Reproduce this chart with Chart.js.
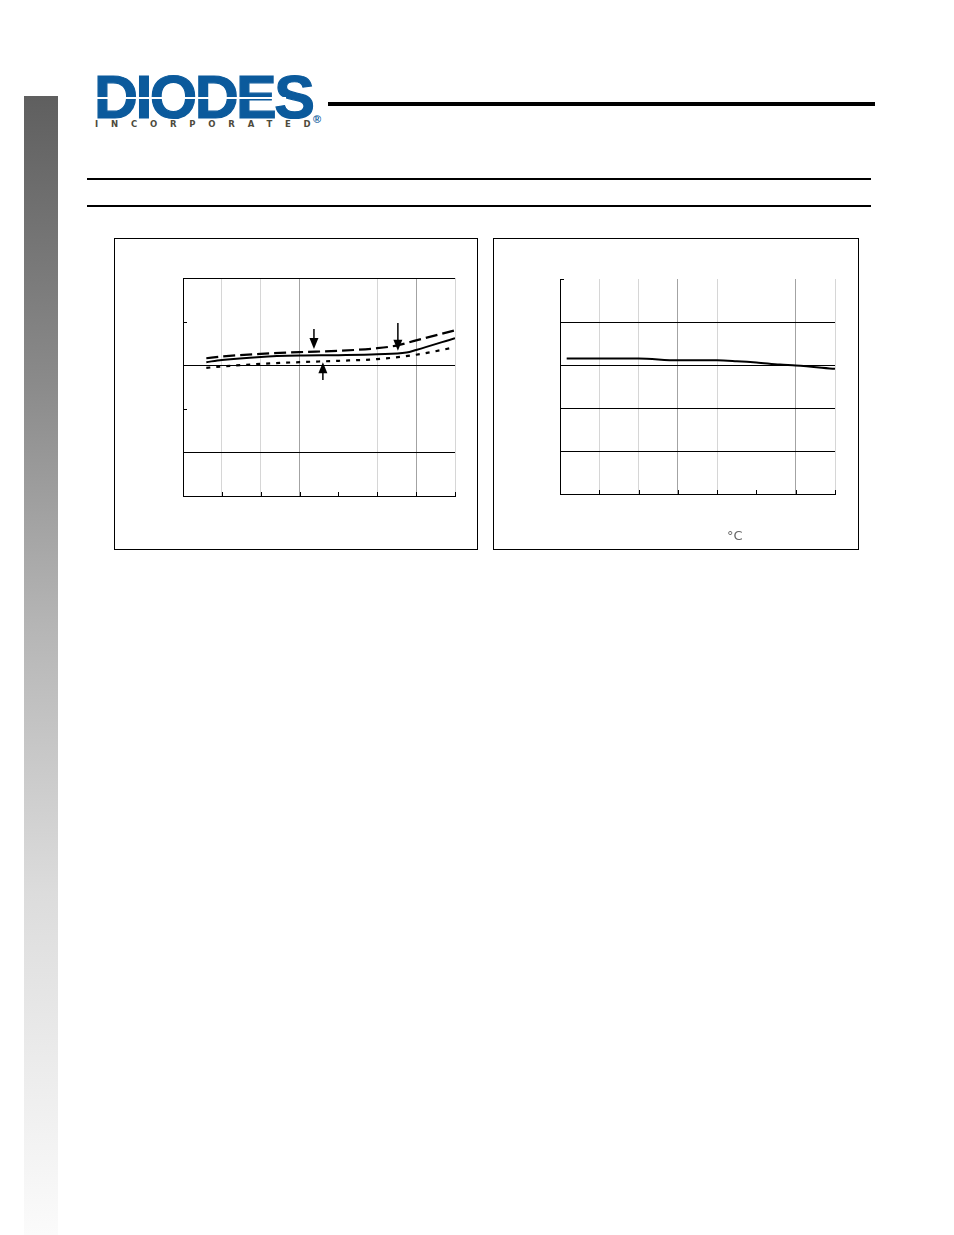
<!DOCTYPE html>
<html>
<head>
<meta charset="utf-8">
<script src="https://cdn.jsdelivr.net/npm/chart.js@4.4.0/dist/chart.umd.min.js"></script>
<style>
  html, body { margin:0; padding:0; background:#fff; }
  body { width:954px; height:1235px; position:relative; overflow:hidden; font-family:"Liberation Sans", Arial, sans-serif; }
  .sidebar { position:absolute; left:24px; top:96px; width:34px; height:1139px;
             background:linear-gradient(to bottom, #5f5f5f 0%, #8a8a8a 25%, #b6b6b6 47%, #dcdcdc 70%, #fbfbfb 100%); }
  .logo { position:absolute; left:94px; top:75px; font-weight:bold; font-size:61px; color:#0b5a9c;
          letter-spacing:-2.6px; line-height:44px; -webkit-text-stroke:1.2px #0b5a9c; }
  .logo-cut { position:absolute; left:96px; top:97px; width:190px; height:2px; background:#fff; }
  .inc { position:absolute; left:95px; top:120px; font-size:8.5px; line-height:9px; font-weight:bold; color:#4d4a3c; letter-spacing:12.8px; font-family:"DejaVu Sans", sans-serif; }
  .inc span { letter-spacing:0; }
  .reg { position:absolute; left:313px; top:114px; font-size:11px; line-height:11px; color:#0b5a9c; font-weight:bold; }
  .rule { position:absolute; background:#000; }
  .box { position:absolute; border:1px solid #000; box-sizing:border-box; }
  .box canvas { position:absolute; left:0; top:0; }
  .unit { position:absolute; left:727px; top:528px; font-size:13px; color:#666; font-family:"DejaVu Sans", sans-serif; }
</style>
</head>
<body>
<div class="sidebar"></div>
<div class="logo">DIODES</div>
<div class="logo-cut"></div>
<div class="inc">INCORPORATE<span>D</span></div>
<div class="reg">®</div>
<div class="rule" style="left:328px; top:102px; width:547px; height:4px;"></div>
<div class="rule" style="left:87px; top:178px; width:784px; height:2px;"></div>
<div class="rule" style="left:87px; top:205px; width:784px; height:2px;"></div>

<div class="box" style="left:114px; top:238px; width:364px; height:312px;">
  <canvas id="chartL" width="362" height="310"></canvas>
</div>
<div class="box" style="left:493px; top:238px; width:366px; height:312px;">
  <canvas id="chartR" width="364" height="310"></canvas>
</div>
<div class="unit">°C</div>

<script>
// left chart: three curves
var leftSolidX  = [0.6, 1, 2, 3, 4, 5, 5.75, 6, 7];
var leftSolidY  = [3.07, 3.12, 3.19, 3.22, 3.23, 3.25, 3.29, 3.35, 3.62];
var leftDashX   = [0.6, 1, 2, 3, 4, 5, 5.5, 6, 7];
var leftDashY   = [3.16, 3.20, 3.26, 3.30, 3.33, 3.39, 3.45, 3.57, 3.80];
var leftDotX    = [0.6, 1, 2, 3, 4, 5, 6, 7];
var leftDotY    = [2.94, 2.97, 3.03, 3.07, 3.10, 3.14, 3.24, 3.41];

// arrows pointing at the curves
var arrowX    = [3.37, 5.53, 3.60];
var arrowFrom = [3.83, 3.97, 2.66];
var arrowTo   = [3.37, 3.33, 3.07];

// right chart: one curve
var rightX = [0.17, 1, 2, 3, 4, 4.5, 5, 5.6, 6, 7];
var rightY = [3.15, 3.15, 3.15, 3.11, 3.11, 3.09, 3.06, 3.01, 2.99, 2.91];

var xTicks = [0, 1, 2, 3, 4, 5, 6, 7];
var yTicks = [0, 1, 2, 3, 4, 5];

var LIGHT = '#d6d6d6', DARK = '#a3a3a3', NONE = 'rgba(0,0,0,0)';
var leftXGrid  = ['#000', LIGHT, LIGHT, DARK, NONE, LIGHT, DARK, LIGHT];
var leftYGrid  = ['#000', '#000', NONE, '#000', NONE, '#000'];
var rightXGrid = ['#000', LIGHT, LIGHT, DARK, LIGHT, NONE, DARK, LIGHT];
var rightYGrid = ['#000', '#000', '#000', '#000', '#000', NONE];

function pts(xs, ys){
    var out = [];
    for(var i=0;i<xs.length;i++){ out.push({x:xs[i], y:ys[i]}); }
    return out;
}

// small ticks pointing into the plot
var innerTicks = {
    id:'innerTicks',
    afterDraw: function(chart, args, opts){
        var c = chart.ctx, a = chart.chartArea;
        var xs = chart.scales.x, ys = chart.scales.y;
        c.save();
        c.strokeStyle = '#000';
        c.lineWidth = 1;
        c.beginPath();
        xTicks.forEach(function(v){
            var px = Math.round(xs.getPixelForValue(v)) + 0.5;
            c.moveTo(px, a.bottom); c.lineTo(px, a.bottom - 4);
        });
        yTicks.forEach(function(v){
            var py = Math.round(ys.getPixelForValue(v)) + 0.5;
            c.moveTo(a.left, py); c.lineTo(a.left + 4, py);
        });
        c.stroke();
        c.restore();
    }
};

var arrows = {
    id:'arrows',
    afterDatasetsDraw: function(chart){
        if(!chart.options.plugins.arrows || !chart.options.plugins.arrows.show) return;
        var c = chart.ctx, xs = chart.scales.x, ys = chart.scales.y;
        c.save();
        c.strokeStyle = '#000';
        c.fillStyle = '#000';
        c.lineWidth = 1.5;
        for(var i=0;i<arrowX.length;i++){
            var px = xs.getPixelForValue(arrowX[i]);
            var y0 = ys.getPixelForValue(arrowFrom[i]);
            var y1 = ys.getPixelForValue(arrowTo[i]);
            var dir = y1 > y0 ? 1 : -1;
            c.beginPath();
            c.moveTo(px, y0); c.lineTo(px, y1 - dir*8);
            c.stroke();
            c.beginPath();
            c.moveTo(px, y1);
            c.lineTo(px - 4.5, y1 - dir*11);
            c.lineTo(px + 4.5, y1 - dir*11);
            c.closePath();
            c.fill();
        }
        c.restore();
    }
};

function scalesFor(xGrid, yGrid){
    return {
        x:{ type:'linear', min:0, max:7,
            ticks:{ display:false, stepSize:1 },
            grid:{ drawTicks:false, color:function(ctx){ return xGrid[ctx.index] || NONE; }, lineWidth:1 },
            border:{ display:true, color:'#000', width:1 } },
        y:{ type:'linear', min:0, max:5,
            ticks:{ display:false, stepSize:1 },
            grid:{ drawTicks:false, color:function(ctx){ return yGrid[ctx.index] || NONE; }, lineWidth:1 },
            border:{ display:true, color:'#000', width:1 } }
    };
}

function lineSet(data, dash, width){
    return { data:data, borderColor:'#000', borderWidth:width, borderDash:dash,
             pointRadius:0, fill:false, cubicInterpolationMode:'monotone' };
}

new Chart(document.getElementById('chartL'), {
    type:'line',
    data:{ datasets:[
        lineSet(pts(leftDashX, leftDashY), [12,5], 2.2),
        lineSet(pts(leftSolidX, leftSolidY), [], 2),
        lineSet(pts(leftDotX, leftDotY), [4,6], 2.2)
    ]},
    options:{
        responsive:false, animation:false,
        layout:{ padding:{ left:68, top:39, right:22, bottom:53 } },
        plugins:{ legend:{display:false}, tooltip:{enabled:false}, arrows:{show:true} },
        scales: scalesFor(leftXGrid, leftYGrid)
    },
    plugins:[innerTicks, arrows]
});

new Chart(document.getElementById('chartR'), {
    type:'line',
    data:{ datasets:[ lineSet(pts(rightX, rightY), [], 2) ] },
    options:{
        responsive:false, animation:false,
        layout:{ padding:{ left:66, top:40, right:23, bottom:55 } },
        plugins:{ legend:{display:false}, tooltip:{enabled:false} },
        scales: scalesFor(rightXGrid, rightYGrid)
    },
    plugins:[innerTicks]
});
</script>
</body>
</html>
